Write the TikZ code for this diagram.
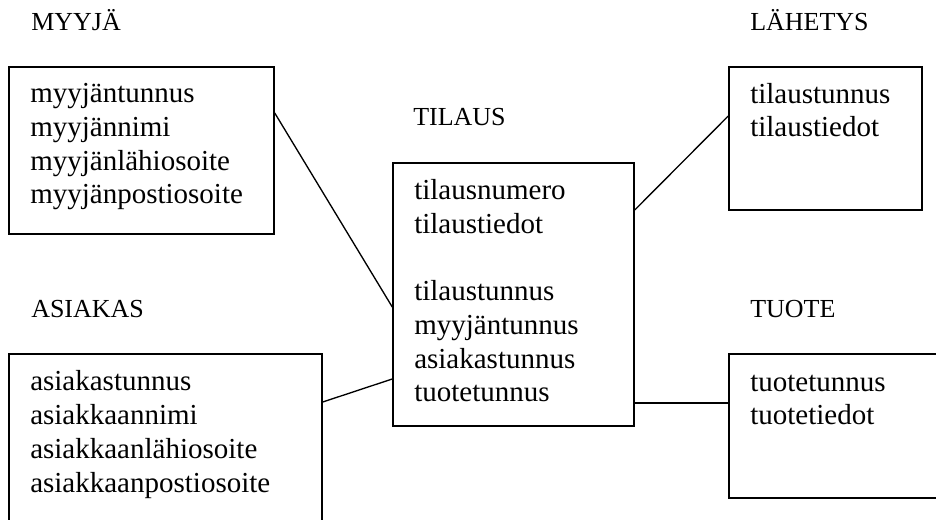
\documentclass[tikz,border=0pt]{standalone}
\usepackage{fontspec}
\setmainfont{Liberation Serif}
\usetikzlibrary{fit,calc}
\tikzset{
  entbox/.style={draw, line width=1.1pt, inner sep=0pt, rectangle},
  entlabel/.style={anchor=base west, inner sep=0pt, font=\fontsize{19.5pt}{23pt}\selectfont},
  attrs/.style={anchor=base west, inner sep=0pt, align=left, font=\fontsize{21.75pt}{25.3pt}\selectfont},
  link/.style={line width=1pt},
}
\begin{document}
\begin{tikzpicture}[x=0.75pt,y=-0.75pt]
\useasboundingbox (0,0) rectangle (936,520);
% boxes
\node[entbox, fit={(9,67) (274,234)}] (myyja) {};
\node[entbox, fit={(9,354) (322,530)}] (asiakas) {};
\node[entbox, fit={(393,163) (634,426)}] (tilaus) {};
\node[entbox, fit={(729,67) (922,210)}] (lahetys) {};
\node[entbox, fit={(729,354) (945,498)}] (tuote) {};
% labels
\node[entlabel] (lmyyja) at (31,31) {MYYJÄ};
\node[entlabel] (lasiakas) at (31,318) {ASIAKAS};
\node[entlabel] (ltilaus) at (413,126) {TILAUS};
\node[entlabel] (llahetys) at (750,31) {LÄHETYS};
\node[entlabel] (ltuote) at (750,318) {TUOTE};
% attributes (anchored at the baseline of their last line)
\node[attrs] (amyyja) at (30,204) {myyjäntunnus\\myyjännimi\\myyjänlähiosoite\\myyjänpostiosoite};
\node[attrs] (aasiakas) at (30,492) {asiakastunnus\\asiakkaannimi\\asiakkaanlähiosoite\\asiakkaanpostiosoite};
\node[attrs] (atilaus) at (414,402) {tilausnumero\\tilaustiedot\\[25.3pt]tilaustunnus\\myyjäntunnus\\asiakastunnus\\tuotetunnus};
\node[attrs] (alahetys) at (750,137) {tilaustunnus\\tilaustiedot};
\node[attrs] (atuote) at (750,425) {tuotetunnus\\tuotetiedot};
% connectors
\draw[link] (myyja.east |- 0,113) -- (tilaus.west |- 0,307);
\draw[link] (asiakas.east |- 0,402) -- (tilaus.west |- 0,379);
\draw[link] (tilaus.east |- 0,210) -- (lahetys.west |- 0,116);
\draw[link] (tilaus.east |- 0,403) -- (tuote.west |- 0,403);
\end{tikzpicture}
\end{document}
